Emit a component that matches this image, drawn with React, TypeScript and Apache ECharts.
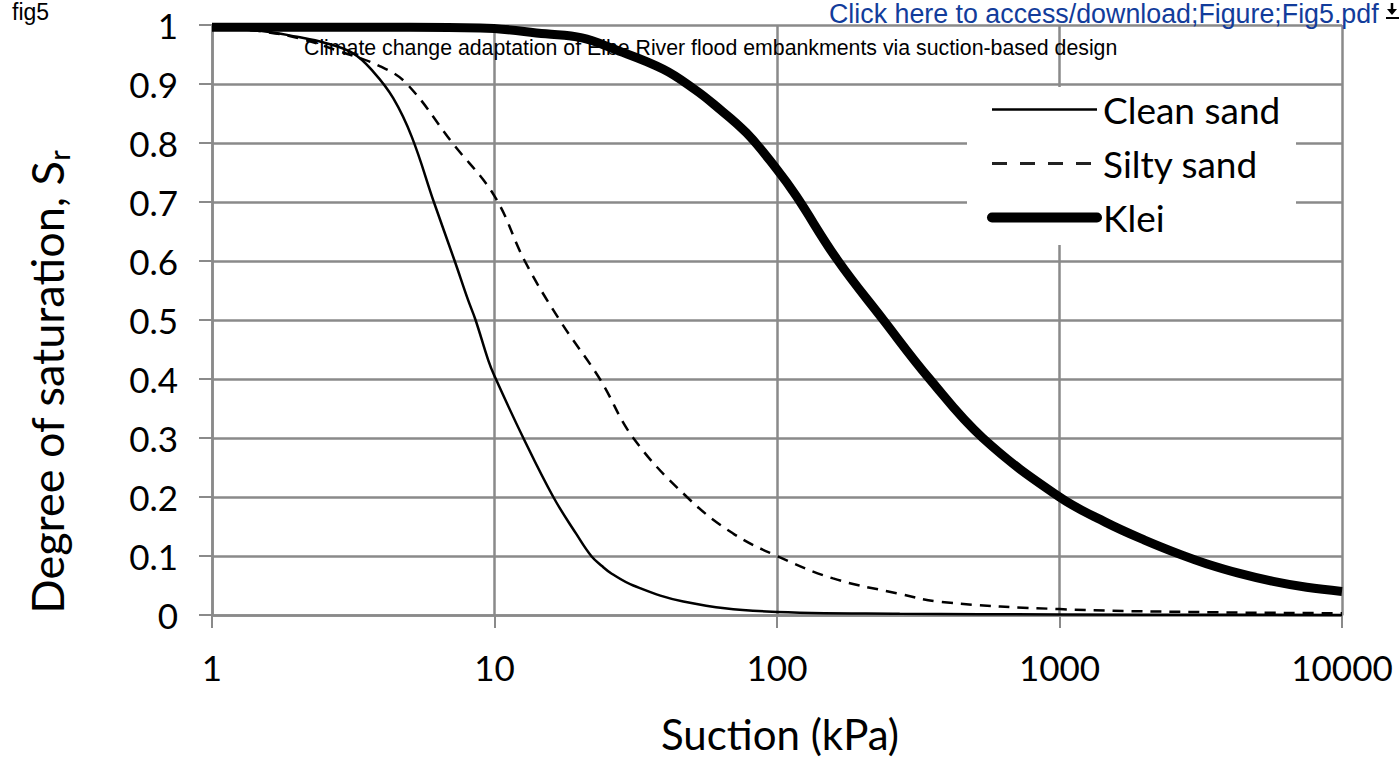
import React, { useEffect, useRef } from 'react';
import * as echarts from 'echarts';

// ---- tick labels ----
const xTickLabels = ['1', '10', '100', '1000', '10000'];
const yTickLabels = ['0', '0.1', '0.2', '0.3', '0.4', '0.5', '0.6', '0.7', '0.8', '0.9', '1'];

// ---- series names ----
const seriesNames = ['Clean sand', 'Silty sand', 'Klei'];

// ---- Clean sand ----
const cleanSandSuction = [1, 1.5, 2, 2.5, 3.16, 3.72, 4.38, 5.1, 6.1, 7.23, 8.06, 8.57, 9.5, 10, 12.65, 16.15, 19.5, 22, 24, 26, 31, 46.6, 92, 272, 1000, 10000];
const cleanSandSr = [0.995, 0.99, 0.98, 0.97, 0.952, 0.921, 0.876, 0.81, 0.7, 0.6, 0.534, 0.5, 0.432, 0.405, 0.3, 0.2, 0.137, 0.1, 0.083, 0.07, 0.05, 0.023, 0.006, 0.002, 0.001, 0.0];

// ---- Silty sand ----
const siltySandSuction = [1, 1.2, 1.56, 2.05, 2.84, 3.94, 4.9, 7.1, 10, 12.8, 17, 23.6, 31, 48, 70, 100, 158, 265, 382, 1000, 3000, 10000];
const siltySandSr = [0.995, 0.993, 0.988, 0.977, 0.955, 0.93, 0.9, 0.8, 0.71, 0.6, 0.5, 0.4, 0.3, 0.2, 0.138, 0.1, 0.062, 0.037, 0.022, 0.01, 0.005, 0.003];

// ---- Klei ----
const kleiSuction = [1, 2, 5, 8.9, 15.2, 20.4, 26.2, 39.6, 51.4, 59.6, 78, 100, 117, 163, 238, 347, 535, 1000, 1459, 2000, 2730, 3310, 4300, 5710, 7500, 10000];
const kleiSr = [0.996, 0.996, 0.996, 0.995, 0.985, 0.978, 0.96, 0.925, 0.89, 0.866, 0.817, 0.755, 0.71, 0.603, 0.5, 0.4, 0.3, 0.2, 0.157, 0.127, 0.101, 0.087, 0.071, 0.057, 0.047, 0.04];

const gridColor = '#8a8a8a';
const labelFont = 'Lato, "Open Sans", sans-serif';
const arialFont = '"Liberation Sans", Arial, sans-serif';

function pairs(xs: number[], ys: number[]) {
  return xs.map((x, i) => [x, ys[i]]);
}

export default function App() {
  const ref = useRef<HTMLDivElement>(null);

  useEffect(() => {
    const chart = echarts.init(ref.current as HTMLDivElement, null, { renderer: 'svg' });
    const option: any = {
      animation: false,
      backgroundColor: '#ffffff',
      grid: { left: 212, top: 25, width: 1130, height: 590, show: false },
      xAxis: {
        type: 'log',
        logBase: 10,
        min: 1,
        max: 10000,
        axisLine: { show: true, lineStyle: { color: gridColor, width: 2.5 } },
        axisTick: { show: true, length: 13, lineStyle: { color: gridColor, width: 2 } },
        minorTick: { show: false },
        splitLine: { show: true, lineStyle: { color: gridColor, width: 2.5 } },
        axisLabel: {
          margin: 34,
          fontFamily: labelFont,
          fontSize: 35,
          color: '#000',
          formatter: (v: number) => xTickLabels[Math.round(Math.log10(v))],
        },
      },
      yAxis: {
        type: 'value',
        min: 0,
        max: 1,
        interval: 0.1,
        axisLine: { show: true, lineStyle: { color: gridColor, width: 2.5 } },
        axisTick: { show: true, length: 13, lineStyle: { color: gridColor, width: 2 } },
        splitLine: { show: true, lineStyle: { color: gridColor, width: 2.5 } },
        axisLabel: {
          margin: 34,
          fontFamily: labelFont,
          fontSize: 35,
          color: '#000',
          formatter: (v: number) => yTickLabels[Math.round(v * 10)],
        },
      },
      legend: {
        left: 987,
        top: 91,
        padding: 0,
        orient: 'vertical',
        itemWidth: 105,
        itemHeight: 20,
        itemGap: 17,
        z: 5,
        textStyle: { fontFamily: labelFont, fontSize: 37, color: '#000', padding: [0, 0, 0, 1] },
        data: [
          { name: seriesNames[0], itemStyle: { opacity: 0 }, lineStyle: { width: 2.5, type: 'solid', color: '#000' } },
          { name: seriesNames[1], itemStyle: { opacity: 0 }, lineStyle: { width: 3, type: [15, 13], color: '#222' } },
          { name: seriesNames[2], itemStyle: { opacity: 0 }, lineStyle: { width: 10, type: 'solid', color: '#000', cap: 'round' } },
        ],
      },
      series: [
        {
          name: seriesNames[0],
          type: 'line',
          data: pairs(cleanSandSuction, cleanSandSr),
          symbol: 'none',
          smooth: 0.4,
          clip: false,
          z: 3,
          itemStyle: { color: '#000' },
          lineStyle: { color: '#000', width: 2.5 },
        },
        {
          name: seriesNames[1],
          type: 'line',
          data: pairs(siltySandSuction, siltySandSr),
          symbol: 'none',
          smooth: 0.4,
          clip: false,
          z: 3,
          itemStyle: { color: '#000' },
          lineStyle: { color: '#000', width: 2.5, type: [11, 8] },
        },
        {
          name: seriesNames[2],
          type: 'line',
          data: pairs(kleiSuction, kleiSr),
          symbol: 'none',
          smooth: 0.4,
          clip: false,
          z: 3,
          itemStyle: { color: '#000' },
          lineStyle: { color: '#000', width: 9 },
        },
      ],
      graphic: [
        { type: 'rect', z: 4, shape: { x: 967, y: 87, width: 329, height: 158 }, style: { fill: '#ffffff' } },
        {
          type: 'text', z: 10, x: 12, y: 0,
          style: { text: 'fig5', font: `23px ${arialFont}`, fill: '#000', align: 'left', verticalAlign: 'top' },
        },
        {
          type: 'text', z: 10, x: 829, y: 0,
          style: { text: 'Click here to access/download;Figure;Fig5.pdf', font: `26.8px ${arialFont}`, fill: '#123c9b', align: 'left', verticalAlign: 'top' },
        },
        { type: 'line', z: 10, shape: { x1: 1392, y1: 3, x2: 1392, y2: 11 }, style: { stroke: '#000', lineWidth: 2.5 } },
        { type: 'polygon', z: 10, shape: { points: [[1387, 9], [1397, 9], [1392, 15]] }, style: { fill: '#000' } },
        { type: 'line', z: 10, shape: { x1: 1386, y1: 18, x2: 1399, y2: 18 }, style: { stroke: '#000', lineWidth: 2 } },
        {
          type: 'text', z: 10, x: 304, y: 37,
          style: { text: 'Climate change adaptation of Elbe River flood embankments via suction-based design', font: `21.3px ${arialFont}`, fill: '#000', align: 'left', verticalAlign: 'top' },
        },
        {
          type: 'text', z: 10, x: 780, y: 734,
          style: { text: 'Suction (kPa)', font: `42px ${labelFont}`, fill: '#000', align: 'center', verticalAlign: 'middle' },
        },
        {
          type: 'text', z: 10, x: 47, y: 382, rotation: Math.PI / 2,
          style: {
            text: '{m|Degree of saturation, S}{s|r}',
            align: 'center',
            verticalAlign: 'middle',
            rich: {
              m: { fontFamily: labelFont, fontSize: 45, fill: '#000', color: '#000', lineHeight: 52 },
              s: { fontFamily: labelFont, fontSize: 29, fill: '#000', color: '#000', verticalAlign: 'bottom', lineHeight: 52 },
            },
          },
        },
      ],
    };
    chart.setOption(option);
    return () => chart.dispose();
  }, []);

  return (
    <div
      ref={ref}
      style={{ position: 'fixed', left: 0, top: 0, width: 1400, height: 758, background: '#fff' }}
    />
  );
}
